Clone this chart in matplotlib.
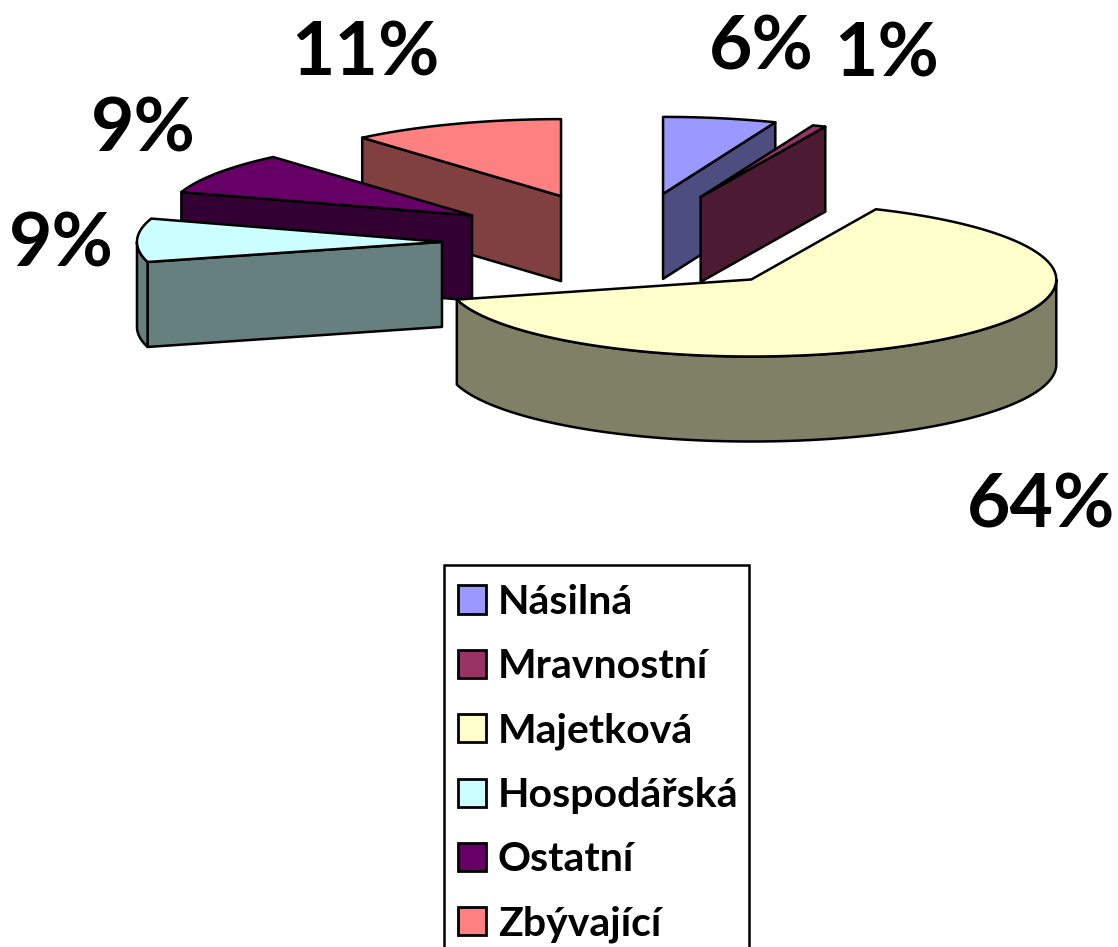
import numpy as np
import matplotlib
matplotlib.use("Agg")
import matplotlib.pyplot as plt
from matplotlib.patches import Polygon, Patch, Rectangle

categories = ["Násilná", "Mravnostní", "Majetková", "Hospodářská", "Ostatní", "Zbývající"]
values = [6.0, 0.7, 64.1, 9.1, 8.8, 11.3]
pct_labels = ["6%", "1%", "64%", "9%", "9%", "11%"]
top_colors = ["#9999FF", "#993366", "#FFFFCC", "#CCFFFF", "#660066", "#FF8080"]
side_colors = ["#4D4D80", "#4D1A33", "#808066", "#668080", "#330033", "#804040"]

# layout (pixels)
W, H = 1118, 947
CX, CY = 628, 243
RX, RY, DEPTH = 305, 77, 85
EX, EY = 187, 50
explode_x = [1.0, 1.0, 1.015, 0.995, 1.0, 1.03]
explode_y = [1.0, 1.0, 0.96, 1.0, 1.0, 1.0]
label_pos = [(761, 48), (887, 55), (1041, 506), (61, 245), (143, 130), (365, 54)]
draw_order = [0, 1, 5, 4, 3, 2]
FONT = "Lato"
LW = 1.8

fig = plt.figure(figsize=(W / 100, H / 100), dpi=100)
ax = fig.add_axes([0, 0, 1, 1])
ax.set_xlim(0, W)
ax.set_ylim(H, 0)
ax.axis("off")

edges = np.cumsum([0] + values) / sum(values) * 2 * np.pi


def arc(ax0, ay0, t0, t1, dy=0.0):
    t = np.linspace(t0, t1, max(int((t1 - t0) * 120), 2))
    return np.column_stack([ax0 + RX * np.sin(t), ay0 - RY * np.cos(t) + dy])


def poly(pts, color, z):
    ax.add_patch(Polygon(pts, closed=True, facecolor=color, edgecolor="black",
                         linewidth=LW, joinstyle="round", zorder=z))


z = 1
for i in draw_order:
    t0, t1 = edges[i], edges[i + 1]
    tm = (t0 + t1) / 2
    ax0 = CX + EX * explode_x[i] * np.sin(tm)
    ay0 = CY - EY * explode_y[i] * np.cos(tm)
    # visible cut faces
    for t, visible in ((t0, np.pi < t0 < 2 * np.pi), (t1, 0 < t1 < np.pi)):
        if visible:
            p = arc(ax0, ay0, t, t)[0]
            poly([(ax0, ay0), p, (p[0], p[1] + DEPTH), (ax0, ay0 + DEPTH)], side_colors[i], z)
            z += 1
    # visible outer rim
    r0, r1 = max(t0, np.pi / 2), min(t1, 3 * np.pi / 2)
    if r1 > r0:
        top = arc(ax0, ay0, r0, r1)
        bot = arc(ax0, ay0, r0, r1, DEPTH)
        poly(np.vstack([top, bot[::-1]]), side_colors[i], z)
        z += 1
    # top face
    poly(np.vstack([[(ax0, ay0)], arc(ax0, ay0, t0, t1)]), top_colors[i], z)
    z += 1

for s, (x, y) in zip(pct_labels, label_pos):
    ax.text(x, y, s, ha="center", va="center", fontsize=54, fontweight="bold",
            family=FONT, color="black", zorder=50)

# legend frame runs past the bottom edge of the picture
ax.add_patch(Rectangle((444, 565), 305, 420, facecolor="white", edgecolor="black",
                       linewidth=LW, zorder=59))
handles = [Patch(facecolor=c, edgecolor="black", linewidth=2.0) for c in top_colors]
leg = ax.legend(handles, categories, loc="upper left",
                bbox_to_anchor=(444 / W, 1 - 570 / H), bbox_transform=fig.transFigure,
                prop={"family": FONT, "weight": "bold", "size": 29.5},
                frameon=False,
                handlelength=0.68, handleheight=0.68, handletextpad=0.29,
                labelspacing=0.665, borderpad=0.34, borderaxespad=0)
leg.set_zorder(60)

fig.savefig("out.png", dpi=100)
